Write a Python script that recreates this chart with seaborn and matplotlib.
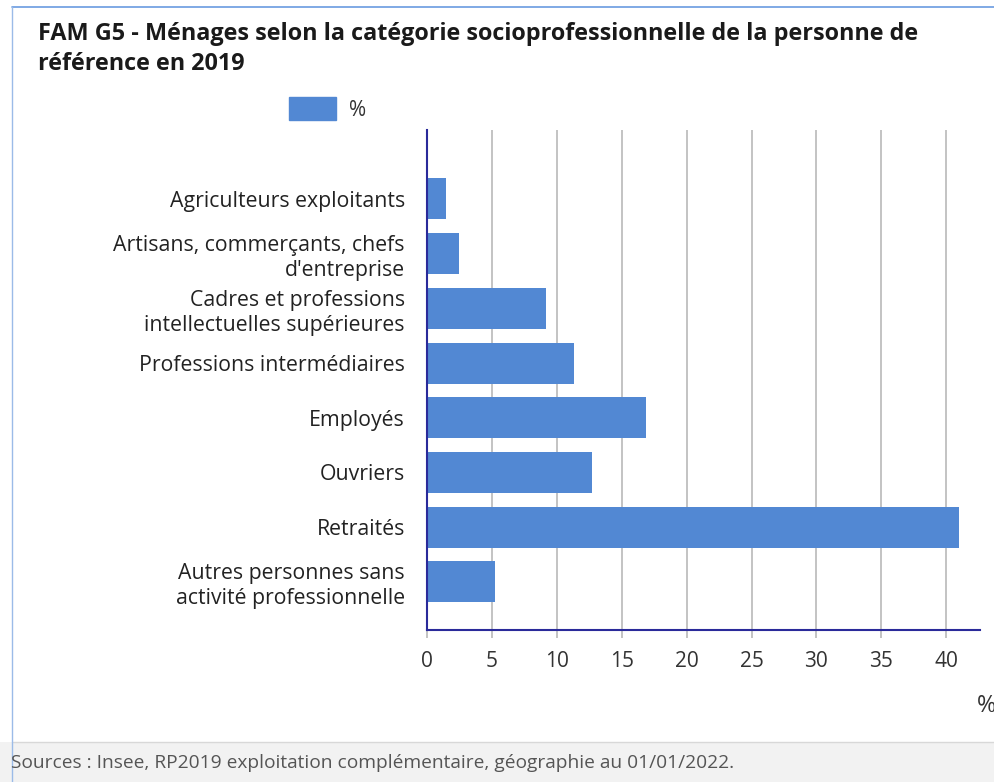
import matplotlib
matplotlib.use("Agg")
import matplotlib.pyplot as plt
import matplotlib.patches as mpatches
from matplotlib.lines import Line2D
import seaborn as sns
import pandas as pd

categories = [
    "Agriculteurs exploitants",
    "Artisans, commerçants, chefs\nd'entreprise",
    "Cadres et professions\nintellectuelles supérieures",
    "Professions intermédiaires",
    "Employés",
    "Ouvriers",
    "Retraités",
    "Autres personnes sans\nactivité professionnelle",
]
values = [1.5, 2.5, 9.2, 11.3, 16.9, 12.7, 41.0, 5.2]
xticks = [0, 5, 10, 15, 20, 25, 30, 35, 40]
series_name = "%"
title = "FAM G5 - Ménages selon la catégorie socioprofessionnelle de la personne de\nréférence en 2019"
source = "Sources : Insee, RP2019 exploitation complémentaire, géographie au 01/01/2022."

sns.set_style("white")
plt.rcParams["font.family"] = ["Open Sans", "DejaVu Sans"]

W, H = 995, 782
fig = plt.figure(figsize=(W / 100, H / 100), dpi=100)

ax = fig.add_axes([427 / W, 1 - 630 / H, (980 - 427) / W, (630 - 130) / H])

bar_color = "#5288d3"
df = pd.DataFrame({"cat": categories, "val": values})
sns.barplot(data=df, x="val", y="cat", orient="h", color=bar_color,
            width=0.75, ax=ax, saturation=1, zorder=3)

ax.set_xlim(0, 42.6)
ax.set_ylim(7.88, -1.26)
ax.set_xticks(xticks)
ax.set_xticklabels([str(t) for t in xticks])
ax.set_xlabel("")
ax.set_ylabel("")

ax.grid(axis="x", color="#b3b3b3", linewidth=1.1, zorder=0)
ax.grid(axis="y", visible=False)
ax.set_axisbelow(True)
for b in ax.patches:
    b.set_zorder(3)
    b.set_edgecolor("none")

spine_col = "#2a2a9a"
for s in ["top", "right"]:
    ax.spines[s].set_visible(False)
for s in ["left", "bottom"]:
    ax.spines[s].set_color(spine_col)
    ax.spines[s].set_linewidth(1.5)
    ax.spines[s].set_zorder(5)

ax.tick_params(axis="y", length=0, pad=16, labelsize=15.3, labelcolor="#222222")
ax.tick_params(axis="x", length=6, width=1.1, color="#b3b3b3", pad=9,
               labelsize=15, labelcolor="#333333", bottom=True)
for lab in ax.get_yticklabels():
    lab.set_linespacing(1.25)

# legend
handle = mpatches.Patch(color=bar_color, label=series_name)
fig.legend(handles=[handle], loc="center left",
           bbox_to_anchor=(270 / W, 1 - 109 / H), frameon=False,
           fontsize=15, handlelength=2.26, handleheight=1.25, handletextpad=0.65,
           labelcolor="#333333")

# title
fig.text(38 / W, 1 - 22 / H, title, ha="left", va="top", fontsize=16.8,
         fontweight="bold", color="#1a1a1a", linespacing=1.35)

# x unit label at far right
fig.text(977 / W, 1 - 706 / H, "%", ha="left", va="center", fontsize=17,
         color="#333333")

# footer band
fig.patches.append(mpatches.Rectangle((0, 0), 1, 40 / H, transform=fig.transFigure,
                                      facecolor="#f2f2f2", edgecolor="none", zorder=0))
fig.lines.append(Line2D([12 / W, 1], [1 - 742 / H, 1 - 742 / H], transform=fig.transFigure,
                        color="#d8d8d8", linewidth=1))
fig.text(11 / W, 1 - 763 / H, source, ha="left", va="center", fontsize=13.8,
         color="#555555")

# frame lines (light blue)
fig.lines.append(Line2D([12 / W, 1], [1 - 7 / H, 1 - 7 / H], transform=fig.transFigure,
                        color="#6a9be0", linewidth=1.2))
fig.lines.append(Line2D([12 / W, 12 / W], [0, 1 - 7 / H], transform=fig.transFigure,
                        color="#9bbbe8", linewidth=1.0))

fig.savefig("out.png", dpi=100)
